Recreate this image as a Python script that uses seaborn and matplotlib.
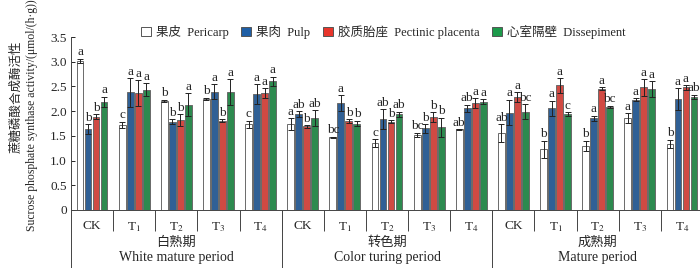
import pandas as pd
import matplotlib
matplotlib.use("Agg")
import matplotlib.pyplot as plt
import matplotlib.transforms as mtransforms
from matplotlib.patches import Patch
from matplotlib.lines import Line2D
from matplotlib.ticker import FuncFormatter
import seaborn as sns

periods = ["白熟期\nWhite mature period", "转色期\nColor turing period", "成熟期\nMature period"]
treatments = ["CK", "T$_1$", "T$_2$", "T$_3$", "T$_4$"]
tissues = ["果皮  Pericarp", "果肉  Pulp", "胶质胎座  Pectinic placenta", "心室隔壁  Dissepiment"]

pericarp = [3.02, 1.72, 2.21, 2.25, 1.73, 1.74, 1.47, 1.35, 1.52, 1.63, 1.55, 1.23, 1.30, 1.86, 1.34]
pulp = [1.64, 2.38, 1.79, 2.39, 2.34, 1.94, 2.16, 1.84, 1.65, 2.06, 1.97, 2.06, 1.86, 2.23, 2.24]
placenta = [1.89, 2.36, 1.82, 1.81, 2.36, 1.69, 1.80, 1.79, 1.88, 2.16, 2.28, 2.52, 2.45, 2.48, 2.48]
dissepiment = [2.19, 2.43, 2.13, 2.39, 2.60, 1.86, 1.75, 1.94, 1.67, 2.19, 1.99, 1.94, 2.09, 2.44, 2.29]

pericarp_err = [0.04, 0.07, 0.02, 0.02, 0.08, 0.12, 0.01, 0.08, 0.04, 0.01, 0.18, 0.17, 0.10, 0.10, 0.08]
pulp_err = [0.10, 0.29, 0.05, 0.15, 0.20, 0.06, 0.16, 0.20, 0.09, 0.07, 0.26, 0.15, 0.05, 0.03, 0.22]
placenta_err = [0.05, 0.26, 0.12, 0.03, 0.10, 0.03, 0.04, 0.03, 0.10, 0.10, 0.10, 0.15, 0.03, 0.17, 0.05]
dissepiment_err = [0.10, 0.13, 0.23, 0.26, 0.10, 0.16, 0.06, 0.05, 0.20, 0.05, 0.15, 0.04, 0.02, 0.16, 0.04]

pericarp_sig = ["a", "c", "b", "b", "c", "a", "bc", "c", "bc", "ab", "ab", "b", "b", "a", "b"]
pulp_sig = ["b", "a", "b", "a", "a", "ab", "a", "ab", "b", "ab", "a", "a", "a", "a", "a"]
placenta_sig = ["b", "a", "b", "b", "a", "b", "b", "b", "b", "a", "a", "a", "a", "a", "a"]
dissepiment_sig = ["a", "a", "a", "a", "a", "ab", "b", "ab", "b", "a", "bc", "c", "bc", "a", "ab"]

colors = ["#ffffff", "#1f5fa6", "#e8352b", "#1d9a4b"]

keys = [f"{p}|{t}" for p in range(len(periods)) for t in treatments]
values = [pericarp, pulp, placenta, dissepiment]
errs = [pericarp_err, pulp_err, placenta_err, dissepiment_err]
sigs = [pericarp_sig, pulp_sig, placenta_sig, dissepiment_sig]

rows = []
for tissue, vals in zip(tissues, values):
    for k, v in zip(keys, vals):
        rows.append({"key": k, "tissue": tissue, "value": v})
df = pd.DataFrame(rows)

sns.set_style("ticks")
plt.rcParams["font.family"] = ["Liberation Serif", "Noto Sans CJK SC"]
plt.rcParams["mathtext.fontset"] = "stix"

W, H = 700, 268
fig = plt.figure(figsize=(W / 100, H / 100), dpi=100)
ax = fig.add_axes([71 / W, 1 - 210 / H, 632 / W, 173 / H])

sns.barplot(data=df, x="key", y="value", hue="tissue", order=keys, hue_order=tissues,
    palette=dict(zip(tissues, colors)), width=0.76, gap=0.15,
    edgecolor="#6a6a6a", linewidth=0.7, errorbar=None, legend=False, ax=ax)

for cont, er, sg in zip(ax.containers, errs, sigs):
    xs = [b.get_x() + b.get_width() / 2 for b in cont]
    ys = [b.get_height() for b in cont]
    ax.errorbar(xs, ys, yerr=er, fmt="none", ecolor="#222222",
        elinewidth=0.7, capsize=2, capthick=0.7)
    for x, y, e, s in zip(xs, ys, er, sg):
        ax.annotate(s, (x, y + e), xytext=(0, 0.3), textcoords="offset points",
            ha="center", va="bottom", fontsize=9.5)

ax.set_xlim(-0.5, 14.5)
ax.set_ylim(0, 3.5)
ax.set_yticks([0, 0.5, 1, 1.5, 2, 2.5, 3, 3.5])
ax.yaxis.set_major_formatter(FuncFormatter(lambda v, p: "0" if v == 0 else f"{v:.1f}"))
ax.set_xticks(range(15))
ax.set_xticklabels(treatments * 3)
ax.set_xticks([i + 0.5 for i in range(14)], minor=True)
ax.tick_params(axis="x", which="major", length=0, pad=7, labelsize=9.5)
ax.tick_params(axis="x", which="minor", length=15, width=0.7, direction="out", color="#444444")
ax.tick_params(axis="y", direction="in", length=3, width=0.7, labelsize=9.5, pad=3)
ax.set_xlabel("")
ax.set_ylabel("")
sns.despine(ax=ax)
for s in ["left", "bottom"]:
    ax.spines[s].set_linewidth(0.7)
    ax.spines[s].set_color("#444444")

trans = mtransforms.blended_transform_factory(ax.transData, ax.transAxes)
for xv in [-0.5, 4.5, 9.5]:
    ax.add_line(Line2D([xv, xv], [0, -58 / 173], transform=trans, clip_on=False,
        color="#444444", linewidth=0.7))

for i, p in enumerate(periods):
    cn, en = p.split("\n")
    ax.text(2 + 5 * i, -33 / 173, cn, transform=trans, ha="center", va="center", fontsize=9.5)
    ax.text(2 + 5 * i, -48 / 173, en, transform=trans, ha="center", va="center", fontsize=10)

fig.text(16 / W, 1 - 97 / H, "蔗糖磷酸合成酶活性", rotation=90, ha="center", va="center", fontsize=9)
fig.text(32 / W, 1 - 115 / H, "Sucrose phosphate synthase activity/(μmol/(h·g))",
    rotation=90, ha="center", va="center", fontsize=8.5)

handles = [Patch(facecolor=c, edgecolor="#555555", linewidth=0.7) for c in colors]
fig.legend(handles, tissues, loc="center", bbox_to_anchor=(383 / W, 1 - 32 / H), ncol=4,
    frameon=False, fontsize=9, handlelength=0.8, handleheight=0.8,
    handletextpad=0.4, columnspacing=1.0, borderpad=0)

fig.savefig("out.png", dpi=100)
